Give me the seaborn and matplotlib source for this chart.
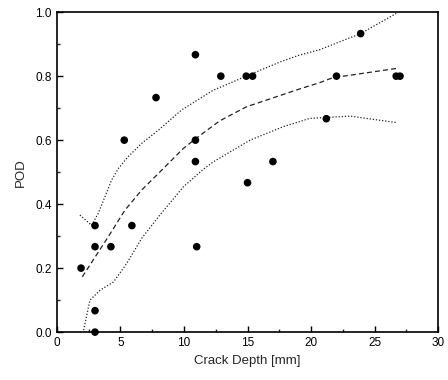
import numpy as np
import pandas as pd
import matplotlib
matplotlib.use('Agg')
import matplotlib.pyplot as plt
import seaborn as sns
from matplotlib.ticker import MultipleLocator

# measured points (crack depth in mm, probability of detection)
depth = [1.9, 3.0, 3.0, 4.25, 5.9, 3.0, 3.0, 5.3, 7.8, 10.9, 10.9, 10.9, 11.0,
         12.9, 14.9, 15.4, 17.0, 15.0, 21.2, 22.0, 23.9, 26.7, 27.0]
pod = [0.2, 0.333, 0.267, 0.267, 0.333, 0.067, 0.0, 0.6, 0.733, 0.867, 0.6, 0.533, 0.267,
       0.8, 0.8, 0.8, 0.533, 0.467, 0.667, 0.8, 0.933, 0.8, 0.8]

# fitted curve and confidence bounds
fit_x = [2.0, 4.04, 5.35, 6.67, 8.24, 9.95, 11.0, 12.8, 14.9, 17.6, 19.1, 20.7, 21.7, 26.7]
fit_y = [0.173, 0.298, 0.381, 0.444, 0.506, 0.574, 0.607, 0.66, 0.704, 0.74, 0.76, 0.78, 0.795, 0.824]

up_x = [1.81, 2.73, 3.25, 3.78, 4.3, 4.83, 5.6, 6.67, 7.98, 9.8, 12.3, 14.9, 17.6, 19.1, 20.7, 23.9, 26.7]
up_y = [0.366, 0.334, 0.371, 0.423, 0.475, 0.511, 0.548, 0.59, 0.631, 0.694, 0.756, 0.80, 0.845, 0.866, 0.883, 0.933, 0.996]

lo_x = [2.1, 2.6, 3.4, 4.46, 5.5, 6.67, 7.98, 9.95, 11.55, 12.3, 15.2, 17.8, 19.9, 21.2, 23.1, 26.7]
lo_y = [0.006, 0.1, 0.131, 0.157, 0.215, 0.293, 0.36, 0.454, 0.51, 0.532, 0.60, 0.642, 0.668, 0.671, 0.675, 0.655]

sns.set_style('ticks')
plt.rcParams['font.family'] = ['Liberation Sans', 'DejaVu Sans']

fig = plt.figure(figsize=(4.48, 3.8), dpi=100)
ax = fig.add_axes([0.127, 0.126, 0.851, 0.842])

sns.lineplot(x=fit_x, y=fit_y, ax=ax, color='#222222', linewidth=0.9,
             linestyle=(0, (4, 2.5)), sort=False)
sns.lineplot(x=up_x, y=up_y, ax=ax, color='#222222', linewidth=0.9,
             linestyle=(0, (1, 1.5)), sort=False)
sns.lineplot(x=lo_x, y=lo_y, ax=ax, color='#222222', linewidth=0.9,
             linestyle=(0, (1, 1.5)), sort=False)
sns.scatterplot(x=depth, y=pod, ax=ax, color='black', s=30, edgecolor='none',
                zorder=5, clip_on=False)

ax.set_xlim(0, 30)
ax.set_ylim(0, 1.0)
ax.xaxis.set_major_locator(MultipleLocator(5))
ax.xaxis.set_minor_locator(MultipleLocator(2.5))
ax.yaxis.set_major_locator(MultipleLocator(0.2))
ax.yaxis.set_minor_locator(MultipleLocator(0.1))
ax.yaxis.set_major_formatter(plt.FuncFormatter(lambda v, p: f'{v:.1f}'))
ax.tick_params(direction='in', which='major', length=4, width=1, labelsize=8.5, colors='black')
ax.tick_params(direction='in', which='minor', length=2.5, width=1)
for s in ax.spines.values():
    s.set_linewidth(1.2)
    s.set_color('black')

ax.set_xlabel('Crack Depth [mm]', fontsize=9.5, labelpad=4)
ax.set_ylabel('POD', fontsize=9.5, labelpad=6)

fig.savefig('out.png', dpi=100)
